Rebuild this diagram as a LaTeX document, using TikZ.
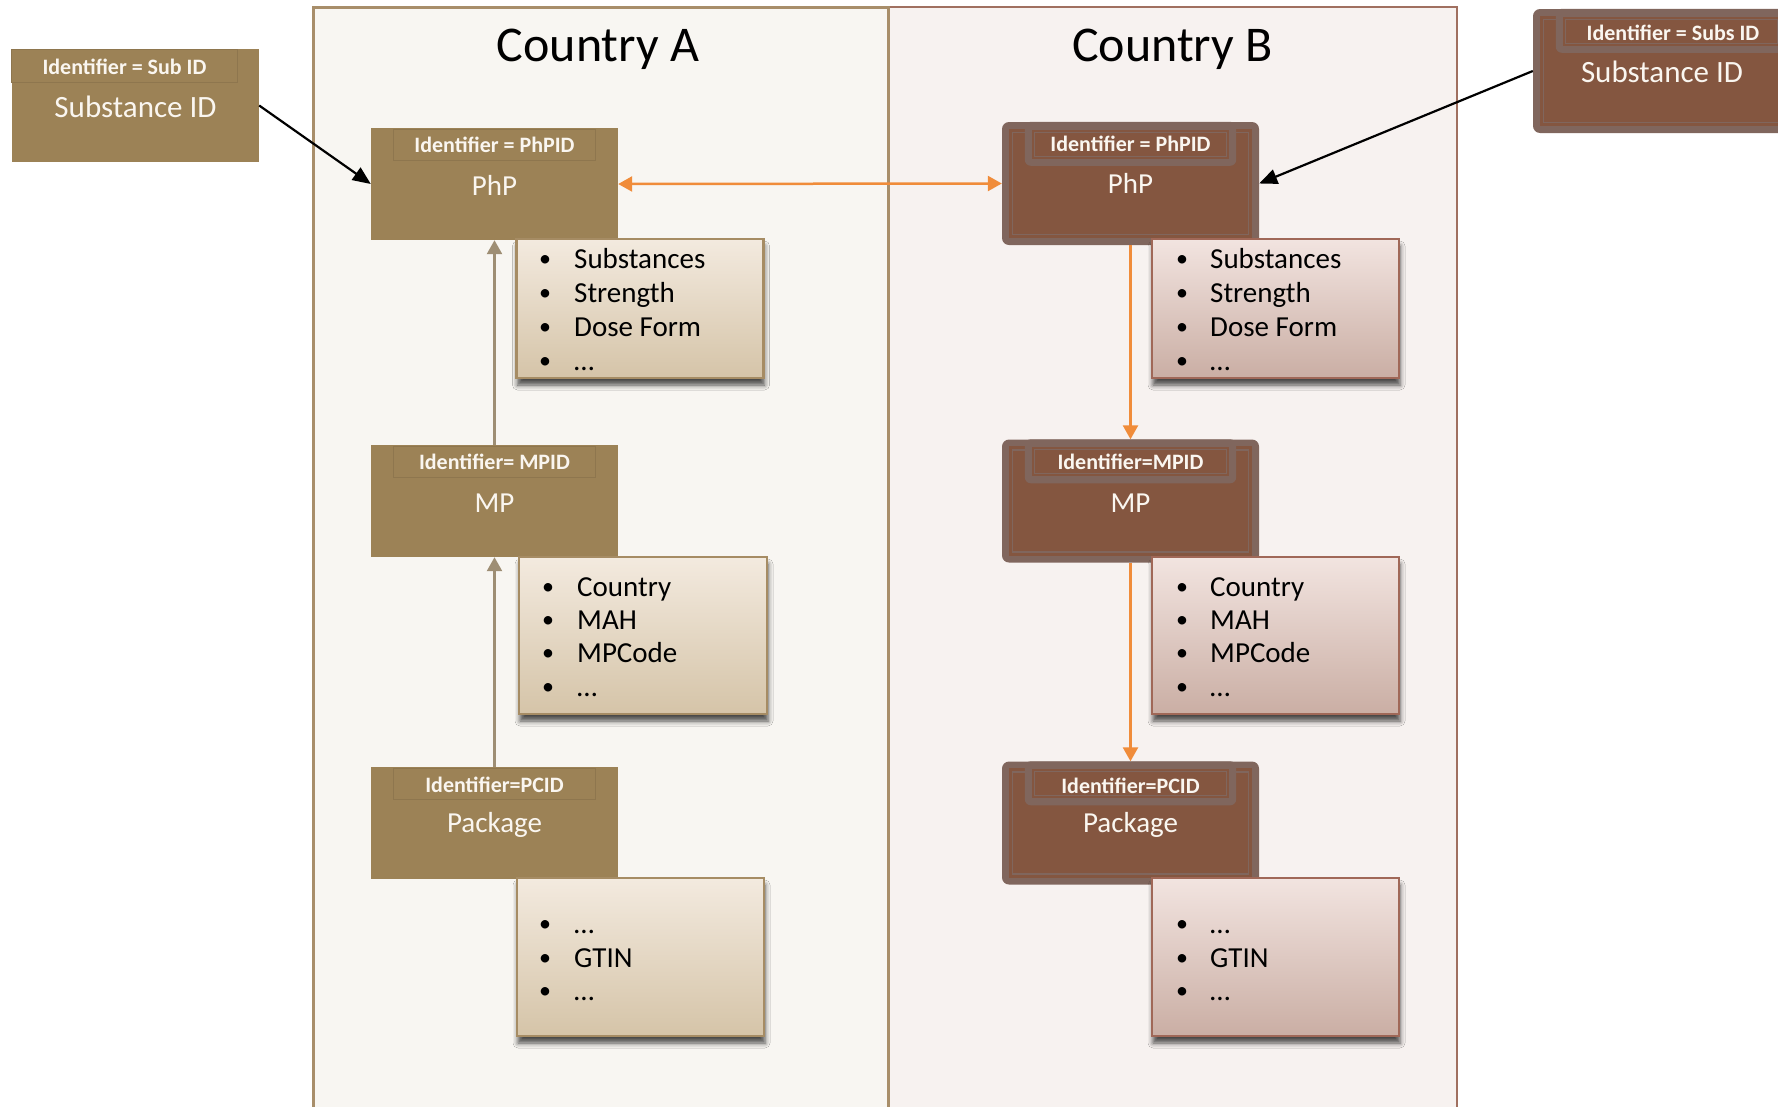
\documentclass[tikz,border=0pt]{standalone}
\usepackage{fontspec}
\setmainfont{Carlito}
\usetikzlibrary{arrows.meta,shadows.blur}
\definecolor{afill}{RGB}{156,130,86}
\definecolor{atab}{RGB}{142,118,78}
\definecolor{bfill}{RGB}{132,86,64}
\definecolor{bframe}{RGB}{128,102,93}
\definecolor{panelA}{RGB}{248,246,242}
\definecolor{panelB}{RGB}{247,242,240}
\definecolor{borderA}{RGB}{168,142,106}
\definecolor{borderB}{RGB}{160,112,96}
\definecolor{attrAtop}{RGB}{243,234,223}
\definecolor{attrAbot}{RGB}{213,196,168}
\definecolor{attrAline}{RGB}{166,140,100}
\definecolor{attrBtop}{RGB}{242,228,224}
\definecolor{attrBbot}{RGB}{202,174,164}
\definecolor{attrBline}{RGB}{160,104,88}
\definecolor{orangeL}{RGB}{240,140,58}
\definecolor{tanL}{RGB}{158,142,116}
\definecolor{txtW}{RGB}{250,246,240}
\newcommand\bdeco[1]{%
  \fill[bfill] ([shift={(7,7)}]#1.north west) rectangle ([shift={(-7,-7)}]#1.south east);
  \draw[bframe,line width=1.5pt] ([shift={(10.5,10.5)}]#1.north west) rectangle ([shift={(-10.5,-10.5)}]#1.south east);
  \fill[bframe,rounded corners=6pt] ([shift={(23,0)}]#1.north west) rectangle ([shift={(-23,44)}]#1.north east);
  \fill[bfill] ([shift={(30,8)}]#1.north west) rectangle ([shift={(-30,37)}]#1.north east);
  \draw[bframe,line width=1.2pt] ([shift={(32.5,10.5)}]#1.north west) rectangle ([shift={(-32.5,34.5)}]#1.north east);
}
\newcommand\adeco[1]{%
  \draw[atab,line width=0.8pt] ([shift={(23,2)}]#1.north west) rectangle ([shift={(-23,33)}]#1.north east);
}
\tikzset{
  abox/.style={fill=afill, inner sep=0, minimum width=247pt, minimum height=112pt},
  bbox/.style={fill=bframe, rounded corners=7pt, inner sep=0, minimum width=257pt, minimum height=123pt},
  idtxt/.style={font=\bfseries\fontsize{22}{26}\selectfont, text=txtW, anchor=base, inner sep=0},
  maintxt/.style={font=\fontsize{29}{34}\selectfont, text=txtW, anchor=base, inner sep=0},
  subtxt/.style={font=\fontsize{31}{36}\selectfont, text=txtW, anchor=base, inner sep=0},
  titletxt/.style={font=\fontsize{50}{60}\selectfont, text=black, anchor=base, inner sep=0},
  listtxt/.style={font=\fontsize{29}{34}\selectfont, text=black, anchor=base west, inner sep=0},
  bul/.style={font=\fontsize{24}{28}\selectfont, text=black, anchor=base west, inner sep=0, yshift=2pt},
  attrbase/.style={line width=2.5pt, inner sep=0, minimum width=247pt,
    blur shadow={shadow xshift=1pt, shadow yshift=-7pt, shadow blur radius=5pt, shadow opacity=70}},
  attrA/.style={attrbase, draw=attrAline, top color=attrAtop, bottom color=attrAbot},
  attrB/.style={attrbase, draw=attrBline, top color=attrBtop, bottom color=attrBbot},
  blackarrow/.style={line width=2.2pt, black, -{Triangle[length=18pt,width=15pt]}},
  orangearrow/.style={line width=2.5pt, orangeL, -{Triangle[length=14pt,width=15pt]}},
  tanarrow/.style={line width=2.5pt, tanL, -{Triangle[length=14pt,width=15pt]}},
}
\begin{document}
\begin{tikzpicture}[x=1pt,y=-1pt]
\useasboundingbox (0,0) rectangle (1778,1106);
\fill[white] (0,0) rectangle (1778,1106);
% panels
\draw[borderB, line width=2.5pt, fill=panelB] (888,7) rectangle (1457,1125);
\draw[borderA, line width=3pt, fill=panelA] (313,7) rectangle (888,1125);
\node[titletxt] (titleA) at (598,61) {Country A};
\node[titletxt] (titleB) at (1172.5,61) {Country B};
% left substance box
\node[abox, minimum height=113pt] (subA) at (135.5,105.5) {};
\draw[atab,line width=0.8pt] ([shift={(0,1)}]subA.north west) rectangle ([shift={(-22,34)}]subA.north east);
\node[idtxt] (subAid) at (124.5,74) {Identifier = Sub ID};
\node[subtxt] (subAtxt) at (135.5,117) {Substance ID};
% Country A boxes
\node[abox] (phpA) at (494.5,184) {};
\adeco{phpA}
\node[idtxt] (phpAid) at (494.5,152) {Identifier = PhPID};
\node[maintxt] (phpAtxt) at (494.5,195) {PhP};
\node[abox] (mpA) at (494.5,501) {};
\adeco{mpA}
\node[idtxt] (mpAid) at (494.5,469) {Identifier= MPID};
\node[maintxt] (mpAtxt) at (494.5,512) {MP};
\node[abox] (pkgA) at (494.5,823) {};
\adeco{pkgA}
\node[idtxt] (pkgAid) at (494.5,792) {Identifier=PCID};
\node[maintxt] (pkgAtxt) at (494.5,832) {Package};
% right substance box
\node[bbox, minimum width=277pt, minimum height=124pt] (subB) at (1671.5,71) {};
\bdeco{subB}
\node[idtxt] (subBid) at (1673,40) {Identifier = Subs ID};
\node[subtxt] (subBtxt) at (1662,82) {Substance ID};
% Country B boxes
\node[bbox] (phpB) at (1130.5,183.5) {};
\bdeco{phpB}
\node[idtxt] (phpBid) at (1130.5,151) {Identifier = PhPID};
\node[maintxt] (phpBtxt) at (1130.5,193) {PhP};
\node[bbox] (mpB) at (1130.5,501) {};
\bdeco{mpB}
\node[idtxt] (mpBid) at (1130.5,469) {Identifier=MPID};
\node[maintxt] (mpBtxt) at (1130.5,512) {MP};
\node[bbox] (pkgB) at (1130.5,823) {};
\bdeco{pkgB}
\node[idtxt] (pkgBid) at (1130.5,793) {Identifier=PCID};
\node[maintxt] (pkgBtxt) at (1130.5,832) {Package};
% arrows
\draw[blackarrow] (subA.east) -- (phpA.west);
\draw[blackarrow] (subB.west) -- (phpB.east);
\draw[orangearrow, {Triangle[length=14pt,width=15pt]}-{Triangle[length=14pt,width=15pt]}] (phpA.east) -- (phpB.west);
\draw[orangearrow] (phpB.south) -- (mpB.north);
\draw[orangearrow] (mpB.south) -- (pkgB.north);
\draw[tanarrow] (mpA.north) -- (phpA.south);
\draw[tanarrow] (pkgA.north) -- (mpA.south);
% attribute boxes A
\node[attrA, minimum height=139pt] (a1) at (640,308.5) {};
\node[attrA, minimum width=248pt, minimum height=157pt] (a2) at (643,635.5) {};
\node[attrA, minimum height=158pt] (a3) at (640.5,957) {};
% attribute boxes B
\node[attrB, minimum height=139pt] (b1) at (1275.5,308.5) {};
\node[attrB, minimum height=157pt] (b2) at (1275.5,635.5) {};
\node[attrB, minimum height=158pt] (b3) at (1275.5,957) {};
% lists A
\node[bul] (a1b1) at (539,268) {•}; \node[listtxt] (a1t1) at (574,268) {Substances};
\node[bul] (a1b2) at (539,302) {•}; \node[listtxt] (a1t2) at (574,302) {Strength};
\node[bul] (a1b3) at (539,336) {•}; \node[listtxt] (a1t3) at (574,336) {Dose Form};
\node[bul] (a1b4) at (539,370) {•}; \node[listtxt] (a1t4) at (574,370) {…};
\node[bul] (a2b1) at (542,596) {•}; \node[listtxt] (a2t1) at (577,596) {Country};
\node[bul] (a2b2) at (542,629) {•}; \node[listtxt] (a2t2) at (577,629) {MAH};
\node[bul] (a2b3) at (542,662) {•}; \node[listtxt] (a2t3) at (577,662) {MPCode};
\node[bul] (a2b4) at (542,696) {•}; \node[listtxt] (a2t4) at (577,696) {…};
\node[bul] (a3b1) at (539,933) {•}; \node[listtxt] (a3t1) at (574,933) {…};
\node[bul] (a3b2) at (539,967) {•}; \node[listtxt] (a3t2) at (574,967) {GTIN};
\node[bul] (a3b3) at (539,1000) {•}; \node[listtxt] (a3t3) at (574,1000) {…};
% lists B
\node[bul] (b1b1) at (1176,268) {•}; \node[listtxt] (b1t1) at (1210,268) {Substances};
\node[bul] (b1b2) at (1176,302) {•}; \node[listtxt] (b1t2) at (1210,302) {Strength};
\node[bul] (b1b3) at (1176,336) {•}; \node[listtxt] (b1t3) at (1210,336) {Dose Form};
\node[bul] (b1b4) at (1176,370) {•}; \node[listtxt] (b1t4) at (1210,370) {…};
\node[bul] (b2b1) at (1176,596) {•}; \node[listtxt] (b2t1) at (1210,596) {Country};
\node[bul] (b2b2) at (1176,629) {•}; \node[listtxt] (b2t2) at (1210,629) {MAH};
\node[bul] (b2b3) at (1176,662) {•}; \node[listtxt] (b2t3) at (1210,662) {MPCode};
\node[bul] (b2b4) at (1176,696) {•}; \node[listtxt] (b2t4) at (1210,696) {…};
\node[bul] (b3b1) at (1176,933) {•}; \node[listtxt] (b3t1) at (1210,933) {…};
\node[bul] (b3b2) at (1176,967) {•}; \node[listtxt] (b3t2) at (1210,967) {GTIN};
\node[bul] (b3b3) at (1176,1000) {•}; \node[listtxt] (b3t3) at (1210,1000) {…};
\end{tikzpicture}
\end{document}
